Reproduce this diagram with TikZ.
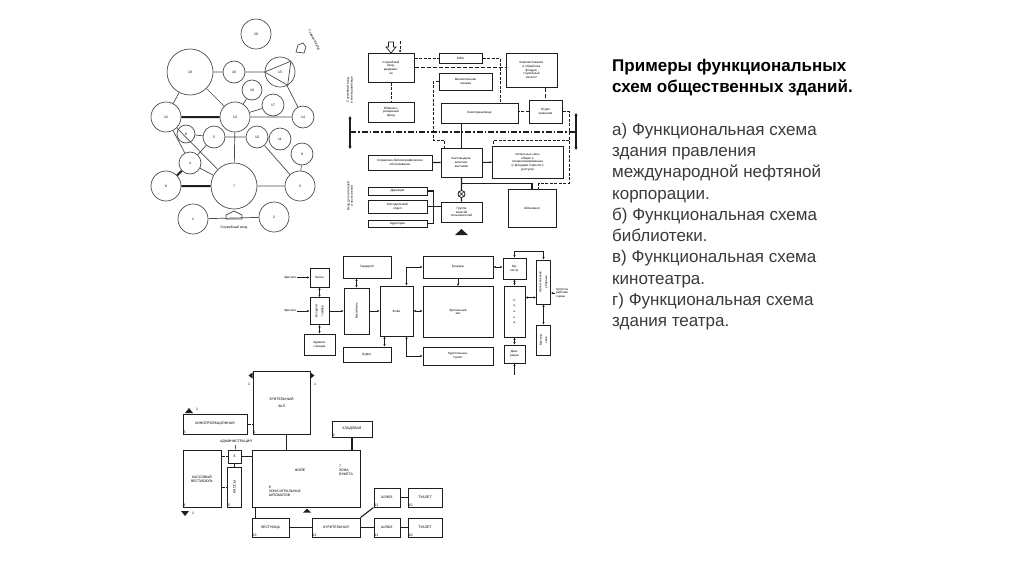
\documentclass[tikz,border=0pt]{standalone}
\usepackage{fontspec}
\setmainfont{Liberation Sans}
\usepackage{graphicx}
\usetikzlibrary{positioning, arrows.meta}
\definecolor{ink}{RGB}{30,30,30}
\definecolor{txtgray}{RGB}{58,58,58}
\newcommand{\mini}{\fontsize{3.4}{4}\selectfont}
\newcommand{\micro}{\fontsize{3.1}{3.7}\selectfont}
\newcommand{\gmini}{\fontsize{3.5}{4.1}\selectfont}
\newcommand{\vtext}[1]{\rotatebox{90}{\shortstack{#1}}}

\begin{document}
\begin{tikzpicture}[x=1pt, y=-1pt,
  every node/.style={inner sep=1pt},
  circ/.style={circle, draw=black!70, line width=0.7pt, minimum size=#1,
               inner sep=0pt, font=\mini},
  blk/.style={draw=ink, line width=1pt, font=\micro, align=center, inner sep=0.5pt},
  gbox/.style={draw=ink, line width=1pt, font=\gmini, align=center, inner sep=0.5pt},
  sz/.style 2 args={minimum width=#1, minimum height=#2},
  numlab/.style={label={[font=\gmini, anchor=south west, inner sep=1pt]south west:#1}},
  lbl/.style={font=\micro, align=center},
  tlink/.style={black!70, line width=0.7pt},
  heavy/.style={ink, line width=2pt},
  link/.style={ink, line width=1.1pt},
  dlink/.style={ink, line width=0.7pt, dash pattern=on 3pt off 1.5pt},
  dthick/.style={ink, line width=1.4pt, dash pattern=on 4pt off 2pt},
  ddlink/.style={ink, line width=1.4pt, dash pattern=on 6pt off 2pt on 1.5pt off 2pt},
  arr/.style={ink, line width=0.7pt,
              {Stealth[length=2.5pt,width=2.2pt]}-{Stealth[length=2.5pt,width=2.2pt]}},
  sarr/.style={ink, line width=0.7pt, -{Stealth[length=2.5pt,width=2.2pt]}}]

\fill[white] (0,0) rectangle (1024,574);
\useasboundingbox (0,0) rectangle (1024,574);

% a) circles
\node[circ=30] (c20) at (256,34) {20};
\node[circ=46] (c19) at (190,72) {19};
\node[circ=22] (c16) at (234,72) {16};
\node[circ=30] (c15) at (280,72) {15};
\node[circ=20] (c18) at (252,90) {18};
\node[circ=22] (c17) at (273,105) {17};
\node[circ=30] (c12) at (166,117) {12};
\node[circ=30] (c13) at (235,117) {13};
\node[circ=22] (c14) at (303,117) {14};
\node[circ=18] (c8) at (186,134) {8};
\node[circ=22] (c5) at (214,137) {5};
\node[circ=22] (c10) at (257,137) {10};
\node[circ=22] (c11) at (280,139) {11};
\node[circ=22] (c9) at (302,154) {9};
\node[circ=22] (c4) at (190,163) {4};
\node[circ=30] (c6) at (166,186) {6};
\node[circ=46] (c7) at (234,186) {7};
\node[circ=30] (c3) at (300,186) {3};
\node[circ=30] (c1) at (193,219) {1};
\node[circ=30] (c2) at (274,217) {2};
\draw[tlink] (c15.180) -- (c15.45) -- (c15.300) -- cycle;
\draw[tlink] (c19) -- (c16) (c16) -- (c15) (c19) -- (c12) (c19) -- (c13)
  (c13) -- (c14) (c13) -- (c18) (c13) -- (c17) (c15) -- (c14)
  (c12) -- (c7) (c12) -- (c4) (c8) -- (c5) (c5) -- (c10) (c10) -- (c11)
  (c13) -- (c7) (c10) -- (c3) (c9) -- (c3) (c5) -- (c4) (c4) -- (c7)
  (c7) -- (c3) (c1) -- (c2);
\draw[heavy] (c12) -- (c13) (c4) -- (c6) (c6) -- (c7);
\draw[tlink] (226,219) -- (226,215) -- (234,211) -- (242,215) -- (242,219) -- cycle;
\node[font=\mini] (svx) at (234,228) {Служебный вход};
\draw[tlink] (296,52) -- (298,45) -- (303,43) -- (306,47) -- (304,53) -- cycle;
\node[font=\mini, rotate=-62] (gvx) at (314,40) {Главный вход};

% b) library
\node[blk, sz={46}{29}] (sv) at (391,67.5) {Служебный\\вход,\\раздевал-\\ки};
\node[blk, sz={43}{10}] (mba) at (460.5,58) {МБА};
\node[blk, sz={51}{34}] (komp) at (531.5,70)
  {Комплектование\\и обработка\\фондов,\\служебный\\каталог};
\node[blk, sz={53}{17}] (mnt) at (465.5,81.5) {Множительная\\техника};
\node[blk, sz={46}{20}] (obm) at (391,112) {Обменно-\\резервный\\фонд};
\node[blk, sz={77}{20}] (kh) at (479.5,113) {Книгохранилище};
\node[blk, sz={33}{23}] (oh) at (545.5,111.5) {Отдел\\хранения};
\node[blk, sz={41}{29}] (vyd) at (461.5,162.5) {Книговыдача,\\каталоги,\\выставки};
\node[blk, sz={71}{32}] (chz) at (527.5,162)
  {Читальные залы\\общие и\\специализированные\\(с фондами открытого\\доступа)};
\node[blk, sz={64}{15}] (spr) at (400,162.5) {Справочно-библиографическое\\обслуживание};
\node[blk, sz={59}{8}] (dir) at (397.5,191) {Дирекция};
\node[blk, sz={59}{13}] (met) at (397.5,206.5) {Методический\\отдел};
\node[blk, sz={59}{7}] (aud) at (397.5,223.5) {Аудитория};
\node[blk, sz={41}{20}] (grp) at (461.5,212) {Группа\\занятий\\пользователей};
\node[blk, sz={48}{38}] (abon) at (532,208) {Абонемент};
\node[circle, draw=ink, line width=0.8pt, minimum size=7, inner sep=0pt] (crs) at (461.5,194) {};
\draw[ink, line width=0.6pt] (crs.45) -- (crs.225) (crs.135) -- (crs.315);
\node[lbl, rotate=90] (lt1) at (350,90) {Служебный вход\\в книгохранилище};
\node[lbl, rotate=90] (lt2) at (350,196) {Вход для читателей\\и посетителей};
\coordinate (ml) at (350,132);
\coordinate (mr) at (576,132);
\coordinate (lt) at (350,116);
\coordinate (lb) at (350,149);
\coordinate (rt) at (576,113);
\coordinate (rb) at (576,150);
\draw[ddlink] (ml) -- (mr);
\draw[link, {Stealth[length=3pt,width=3pt]}-{Stealth[length=3pt,width=3pt]}] (lt) -- (lb);
\draw[link, {Stealth[length=3pt,width=3pt]}-{Stealth[length=3pt,width=3pt]}] (rt) -- (rb);
\draw[link] (vyd.north) -- (vyd.north |- kh.south);
\draw[link] (vyd) -- (chz) (spr) -- (vyd) (vyd) -- (crs) (crs) -- (grp);
\draw[link] ([yshift=-6pt]vyd.south) -| (abon.north);
\draw[link] (dir.east) -- ++(6,0) |- (aud.east);
\draw[link] (met.east) -- (met.east -| grp.west);
\draw[dlink] (sv) -- (obm);
\draw[dlink] (sv.east |- mba) -- (mba);
\draw[dthick] (sv.east) -- (sv.east -| komp.west);
\coordinate (mk) at (500,103);
\draw[dlink] (mba.east) -| (mk);
\draw[dthick] (komp.south -| oh.north) -- (oh.north);
\draw[dlink] (oh.west) -- (oh.west -| kh.east);
\coordinate (lp) at (433,140);
\draw[dlink] (mnt.west) -| (lp) -| ([xshift=4pt]vyd.north west);
\coordinate (rp) at (569,183);
\draw[dlink] (oh.east) -| (rp) -| ([xshift=-18pt]abon.north east);
\coordinate (rq) at (569,140);
\draw[dlink] (rq) -| ([xshift=2pt]chz.north west);
\coordinate (svin) at (391,42);
\draw[ink, line width=0.7pt] (svin) ++(-2.5,0) -- ++(0,5) -- ++(-2.5,0) -- ++(5,6)
  -- ++(5,-6) -- ++(-2.5,0) -- ++(0,-5) -- cycle;
\coordinate (sv1) at (400,41);
\draw[dlink, -{Stealth[length=2.5pt,width=2.5pt]}] (sv1) -- (sv1 |- sv.north);
\fill[ink] (455,235) -- (461.5,229) -- (468,235) -- cycle;

% c) cinema
\node[lbl] (zr1) at (290,277.5) {Зрители};
\node[lbl] (zr2) at (290,311) {Зрители};
\node[blk, sz={19}{19}] (kas) at (319.5,277.5) {Кассы};
\node[blk, sz={19}{27}] (tamb) at (319.5,311) {\vtext{Входной\\тамбур}};
\node[blk, sz={31}{21}] (adm) at (319.5,344.5) {Админи-\\страция};
\node[blk, sz={48}{22}] (gard) at (367,267) {Гардероб};
\node[blk, sz={25}{46}] (vest) at (356.5,311) {\vtext{Вестибюль}};
\node[blk, sz={48}{15}] (buf) at (367,354.5) {Буфет};
\node[blk, sz={33}{50}] (foye) at (396.5,311) {Фойе};
\node[blk, sz={70}{22}] (kul) at (458,267) {Кулуары};
\node[blk, sz={70}{51}] (zal) at (458,312) {Зрительный\\зал};
\node[blk, sz={70}{18}] (kur) at (458,356) {Курительные,\\туалет};
\node[blk, sz={23}{21}] (ork) at (514.5,268.5) {Ор-\\кестр};
\node[blk, sz={21}{51}] (scn) at (514.5,311.5) {С\\[2pt]ц\\[2pt]е\\[2pt]н\\[2pt]а};
\node[blk, sz={21}{18}] (dek) at (514.5,354) {Деко-\\рации};
\node[blk, sz={14}{44}] (art) at (543.5,282) {\vtext{Артистические\\уборные}};
\node[blk, sz={14}{30}] (mas) at (543.5,340) {\vtext{Мастер-\\ские}};
\node[lbl, align=left, anchor=west] (ars) at (555,293) {Артисты\\рабочие\\сцены};
\coordinate (dk0) at (514.5,375);
\draw[sarr] (zr1) -- (kas);
\draw[sarr] (zr2) -- (tamb);
\draw[arr] (kas) -- (tamb);
\draw[arr] (tamb) -- (adm);
\draw[sarr] (tamb) -- (vest);
\draw[arr] (vest.north) -- (vest.north |- gard.south);
\draw[sarr] (vest) -- (foye);
\draw[arr] ([xshift=5pt]foye.south west) -- ([xshift=5pt]foye.south west |- buf.north);
\draw[arr] (foye.east) -- (foye.east -| zal.west);
\draw[arr] ([xshift=-7pt]foye.north east) |- (kul.west);
\draw[arr] ([xshift=-7pt]foye.south east) |- (kur.west);
\draw[sarr] (kul) -- (zal);
\draw[arr] (kul.east) -- (kul.east -| ork.west);
\draw[arr] (ork.north) -- ++(0,-6) -| (art.north);
\draw[arr] ([yshift=-12pt]scn.north east) -- ([yshift=-12pt]scn.north east -| art.west);
\draw[arr] (ork) -- (scn);
\draw[arr] (scn) -- (dek);
\draw[arr] (art) -- (mas);
\draw[sarr] (ars.west) -- (ars.west -| art.east);
\draw[sarr] (dk0) -- (dek);

% d) theatre
\node[gbox, sz={57}{63}, numlab=1] (zz) at (281.5,402.5) {ЗРИТЕЛЬНЫЙ\\[3pt]ЗАЛ};
\node[gbox, sz={64}{20}, numlab=3] (kp) at (215,424) {КИНОПРОЕКЦИОННАЯ};
\node[font=\gmini] (admt) at (236,442) {АДМИНИСТРАЦИЯ};
\node[gbox, sz={13}{13}] (adm2) at (234.5,456.5) {6};
\node[gbox, sz={38}{57}, numlab=4] (kv) at (202,478.5) {КАССОВЫЙ\\ВЕСТИБЮЛЬ};
\node[gbox, sz={14}{40}, numlab=5] (ks) at (234.5,487) {\rotatebox{90}{КАССЫ}};
\node[gbox, sz={108}{57}] (fy) at (306,478.5) {};
\node[font=\gmini] (fyt) at (300,470) {ФОЙЕ};
\node[font=\gmini, align=left] (fya) at (285,491) {8\\ЗОНА ИГРАЛЬНЫХ\\АВТОМАТОВ};
\node[font=\gmini, align=left] (fyb) at (346,470) {7\\ЗОНА\\БУФЕТА};
\node[gbox, sz={40}{16}, numlab=9] (kl) at (352,429) {КЛАДОВАЯ};
\node[gbox, sz={37}{19}, numlab=13] (lest) at (270.5,527.5) {ЛЕСТНИЦА};
\node[gbox, sz={48}{19}, numlab=12] (kor) at (336,527.5) {КУРИТЕЛЬНАЯ};
\node[gbox, sz={26}{19}, numlab=11] (sh1) at (387,497.5) {ШЛЮЗ};
\node[gbox, sz={34}{19}, numlab=10] (tu1) at (425,497.5) {ТУАЛЕТ};
\node[gbox, sz={26}{19}, numlab=11] (sh2) at (387,527.5) {ШЛЮЗ};
\node[gbox, sz={34}{19}, numlab=10] (tu2) at (425,527.5) {ТУАЛЕТ};
\draw[dlink] (kp.east) -- (kp.east -| zz.west);
\draw[link] ([xshift=5pt]zz.south) -- ([xshift=5pt]zz.south |- fy.north);
\draw[link] (kl.south) -- (kl.south |- fy.north);
\draw[link] (adm2.east) -- (adm2.east -| fy.west);
\draw[link] (adm2) -- (ks);
\draw[tlink] (admt) -- (adm2);
\draw[dlink] (kv.east |- adm2) -- (adm2.west);
\draw[dlink] (kv.east |- ks) -- (ks.west);
\draw[link] ([xshift=4pt]fy.south west) -- ([xshift=4pt]fy.south west |- lest.north);
\draw[link] (lest) -- (kor) (kor) -- (sh2) (sh2) -- (tu2) (sh1) -- (tu1);
\draw[link] (kor.north east) -- (sh1.south west);
\fill[ink] ([yshift=-2pt]zz.north west) -- ++(-4,3) -- ++(4,3) -- cycle;
\fill[ink] ([yshift=-2pt]zz.north east) -- ++(4,3) -- ++(-4,3) -- cycle;
\node[font=\gmini] (zm1) at (249,384) {1};
\node[font=\gmini] (zm2) at (315,384) {1};
\fill[ink] (185,413) -- (189,408) -- (193,413) -- cycle;
\node[font=\gmini] (km1) at (197,409) {1};
\fill[ink] (181,511) -- (185,516) -- (189,511) -- cycle;
\node[font=\gmini] (kv1) at (193,513) {1};
\fill[ink] ([xshift=1pt, yshift=-5pt]fy.south) -- ++(-4,0) -- ++(4,-4) -- ++(4,4) -- cycle;

% text
\node[anchor=north west, align=left, inner sep=0pt, text=black,
      font=\fontsize{17}{20.5}\selectfont\bfseries] (ttl) at (612,59)
  {Примеры функциональных\\схем общественных зданий.};
\node[anchor=north west, align=left, inner sep=0pt, text=txtgray,
      font=\fontsize{17}{21.3}\selectfont] (body) at ([yshift=-27pt]ttl.south west)
  {а) Функциональная схема\\здания правления\\международной нефтяной\\корпорации.\\
   б) Функциональная схема\\библиотеки.\\в) Функциональная схема\\кинотеатра.\\
   г) Функциональная схема\\здания театра.};
\end{tikzpicture}
\end{document}
